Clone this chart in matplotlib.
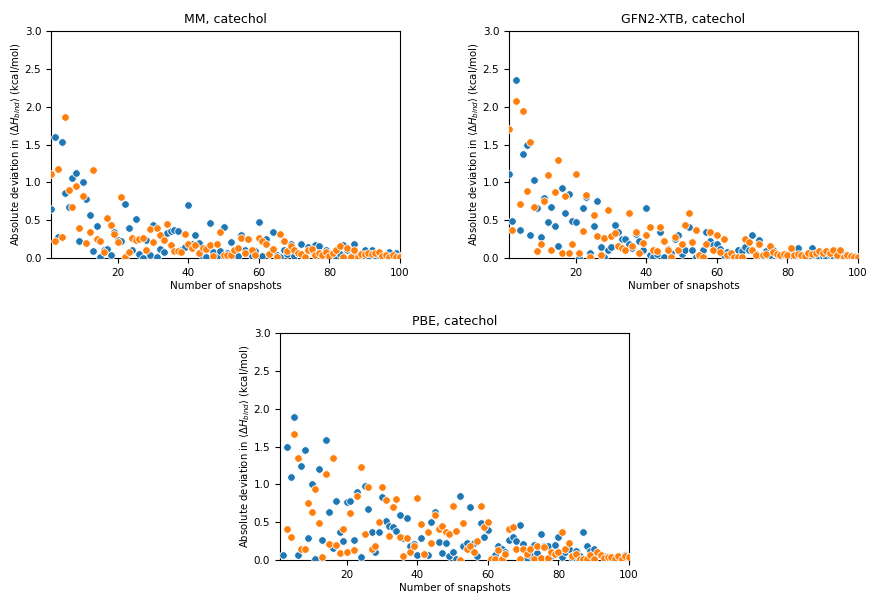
import numpy as np
import matplotlib
matplotlib.use("Agg")
import matplotlib.pyplot as plt

# Convergence of <dH_bind> with number of snapshots, two series per method
snapshots = np.arange(1, 101)

mm_blue = [0.65, 1.60, 0.28, 1.53, 0.86, 0.67, 1.06, 1.12, 0.23, 1.01,
           0.78, 0.57, 0.09, 0.42, 0.01, 0.10, 0.12, 0.04, 0.34, 0.24,
           0.22, 0.71, 0.40, 0.11, 0.52, 0.05, 0.00, 0.24, 0.04, 0.44,
           0.01, 0.12, 0.08, 0.33, 0.36, 0.37, 0.36, 0.11, 0.15, 0.70,
           0.18, 0.30, 0.20, 0.01, 0.01, 0.46, 0.08, 0.03, 0.09, 0.41,
           0.06, 0.21, 0.02, 0.03, 0.30, 0.11, 0.06, 0.03, 0.09, 0.48,
           0.03, 0.25, 0.05, 0.34, 0.04, 0.02, 0.10, 0.05, 0.19, 0.03,
           0.06, 0.18, 0.02, 0.14, 0.09, 0.17, 0.16, 0.04, 0.11, 0.03,
           0.04, 0.02, 0.05, 0.17, 0.10, 0.03, 0.19, 0.03, 0.05, 0.10,
           0.03, 0.11, 0.02, 0.04, 0.03, 0.04, 0.08, 0.02, 0.06, 0.03]
mm_orange = [1.11, 0.22, 1.18, 0.28, 1.87, 0.90, 0.68, 0.95, 0.40, 0.82,
             0.20, 0.34, 1.16, 0.25, 0.23, 0.08, 0.53, 0.43, 0.32, 0.21,
             0.80, 0.01, 0.08, 0.26, 0.24, 0.25, 0.27, 0.10, 0.39, 0.21,
             0.40, 0.30, 0.24, 0.45, 0.17, 0.09, 0.09, 0.08, 0.32, 0.18,
             0.13, 0.17, 0.07, 0.13, 0.12, 0.17, 0.03, 0.18, 0.34, 0.04,
             0.04, 0.04, 0.11, 0.13, 0.26, 0.06, 0.25, 0.11, 0.04, 0.27,
             0.22, 0.19, 0.05, 0.12, 0.02, 0.32, 0.23, 0.09, 0.16, 0.10,
             0.07, 0.05, 0.02, 0.11, 0.12, 0.04, 0.06, 0.04, 0.08, 0.03,
             0.06, 0.10, 0.16, 0.01, 0.13, 0.01, 0.10, 0.01, 0.05, 0.05,
             0.07, 0.05, 0.07, 0.08, 0.03, 0.04, 0.02, 0.04, 0.02, 0.02]

gfn_blue = [1.11, 0.49, 2.35, 0.37, 1.38, 1.49, 0.30, 1.03, 0.66, 0.28,
            0.79, 0.47, 0.68, 0.42, 0.16, 0.92, 0.59, 0.84, 0.49, 0.47,
            0.00, 0.66, 0.80, 0.06, 0.42, 0.75, 0.15, 0.02, 0.10, 0.14,
            0.43, 0.35, 0.25, 0.25, 0.18, 0.13, 0.32, 0.23, 0.11, 0.66,
            0.04, 0.01, 0.05, 0.34, 0.02, 0.12, 0.07, 0.25, 0.31, 0.05,
            0.11, 0.41, 0.10, 0.02, 0.04, 0.11, 0.34, 0.23, 0.17, 0.18,
            0.12, 0.04, 0.08, 0.03, 0.05, 0.11, 0.09, 0.15, 0.11, 0.30,
            0.05, 0.24, 0.03, 0.09, 0.04, 0.11, 0.04, 0.02, 0.04, 0.03,
            0.10, 0.11, 0.13, 0.03, 0.04, 0.02, 0.13, 0.04, 0.02, 0.03,
            0.02, 0.04, 0.03, 0.02, 0.04, 0.04, 0.02, 0.03, 0.03, 0.02]
gfn_orange = [1.70, 0.37, 2.07, 0.71, 1.94, 0.88, 1.53, 0.68, 0.09, 0.18,
              0.75, 1.10, 0.11, 0.87, 1.30, 0.06, 0.82, 0.06, 0.18, 1.11,
              0.06, 0.36, 0.83, 0.01, 0.57, 0.29, 0.04, 0.26, 0.63, 0.29,
              0.33, 0.16, 0.13, 0.11, 0.60, 0.16, 0.34, 0.07, 0.20, 0.30,
              0.41, 0.11, 0.09, 0.41, 0.22, 0.10, 0.01, 0.28, 0.10, 0.19,
              0.43, 0.59, 0.21, 0.37, 0.04, 0.02, 0.19, 0.34, 0.10, 0.30,
              0.08, 0.25, 0.04, 0.07, 0.02, 0.02, 0.02, 0.25, 0.21, 0.11,
              0.04, 0.19, 0.04, 0.05, 0.16, 0.08, 0.05, 0.04, 0.05, 0.04,
              0.13, 0.04, 0.05, 0.04, 0.03, 0.07, 0.05, 0.07, 0.09, 0.07,
              0.09, 0.06, 0.11, 0.04, 0.11, 0.01, 0.04, 0.03, 0.02, 0.01]

# PBE: first snapshots lie above the plotted range
pbe_blue_x = np.arange(2, 101)
pbe_blue = [0.07, 1.49, 1.10, 1.89, 0.07, 1.24, 1.46, 0.29, 1.00,
            0.02, 1.20, 0.27, 1.58, 0.63, 0.16, 0.78, 0.37, 0.25, 0.77,
            0.78, 0.26, 0.90, 0.04, 0.98, 0.68, 0.37, 0.10, 0.37, 0.83,
            0.51, 0.45, 0.44, 0.38, 0.60, 0.29, 0.56, 0.18, 0.21, 0.07,
            0.29, 0.08, 0.07, 0.50, 0.63, 0.24, 0.09, 0.23, 0.05, 0.11,
            0.02, 0.85, 0.18, 0.23, 0.70, 0.22, 0.05, 0.49, 0.31, 0.40,
            0.02, 0.07, 0.18, 0.14, 0.10, 0.26, 0.30, 0.25, 0.46, 0.21,
            0.03, 0.06, 0.20, 0.09, 0.35, 0.18, 0.19, 0.05, 0.20, 0.30,
            0.04, 0.10, 0.14, 0.03, 0.12, 0.05, 0.37, 0.18, 0.12, 0.14,
            0.07, 0.06, 0.05, 0.04, 0.04, 0.03, 0.04, 0.03, 0.06, 0.04]
pbe_orange_x = np.arange(3, 101)
pbe_orange = [0.41, 0.30, 1.67, 1.35, 0.15, 0.14, 0.75, 0.63,
              0.94, 0.49, 0.04, 1.14, 0.21, 1.35, 0.20, 0.09, 0.41, 0.11,
              0.62, 0.13, 0.85, 1.23, 0.34, 0.97, 0.15, 0.19, 0.50, 0.96,
              0.79, 0.32, 0.70, 0.81, 0.31, 0.05, 0.29, 0.11, 0.19, 0.82,
              0.47, 0.08, 0.37, 0.22, 0.59, 0.41, 0.45, 0.37, 0.34, 0.72,
              0.39, 0.00, 0.49, 0.14, 0.18, 0.11, 0.25, 0.72, 0.43, 0.50,
              0.01, 0.02, 0.13, 0.01, 0.08, 0.41, 0.43, 0.15, 0.01, 0.14,
              0.08, 0.14, 0.02, 0.19, 0.03, 0.17, 0.03, 0.10, 0.08, 0.11,
              0.37, 0.14, 0.23, 0.05, 0.08, 0.02, 0.02, 0.02, 0.07, 0.01,
              0.10, 0.07, 0.03, 0.04, 0.04, 0.02, 0.05, 0.02, 0.05, 0.04]

ylabel = r"Absolute deviation in $\langle\Delta H_{bind}\rangle$ (kcal/mol)"

fig = plt.figure(figsize=(8.7, 5.93), dpi=100)
ax1 = fig.add_axes([0.0586, 0.5649, 0.401, 0.3828])
ax2 = fig.add_axes([0.585, 0.5649, 0.401, 0.3828])
ax3 = fig.add_axes([0.3218, 0.0556, 0.401, 0.3828])

panels = [
    (ax1, "MM, catechol", snapshots, mm_blue, snapshots, mm_orange),
    (ax2, "GFN2-XTB, catechol", snapshots, gfn_blue, snapshots, gfn_orange),
    (ax3, "PBE, catechol", pbe_blue_x, pbe_blue, pbe_orange_x, pbe_orange),
]

for ax, title, xb, yb, xo, yo in panels:
    ax.scatter(xb, yb, s=30, color="#1f77b4", edgecolors="white", linewidths=0.6, zorder=3)
    ax.scatter(xo, yo, s=30, color="#ff7f0e", edgecolors="white", linewidths=0.6, zorder=3)
    ax.set_xlim(1, 100)
    ax.set_ylim(0, 3)
    ax.set_xticks([20, 40, 60, 80, 100])
    ax.set_yticks(np.arange(0, 3.01, 0.5))
    ax.tick_params(labelsize=7.5)
    ax.set_title(title, fontsize=9)
    ax.set_xlabel("Number of snapshots", fontsize=7.5, labelpad=2)
    ax.set_ylabel(ylabel, fontsize=7.3, labelpad=1)
    for sp in ax.spines.values():
        sp.set_linewidth(0.8)

fig.savefig("out.png", dpi=100)
